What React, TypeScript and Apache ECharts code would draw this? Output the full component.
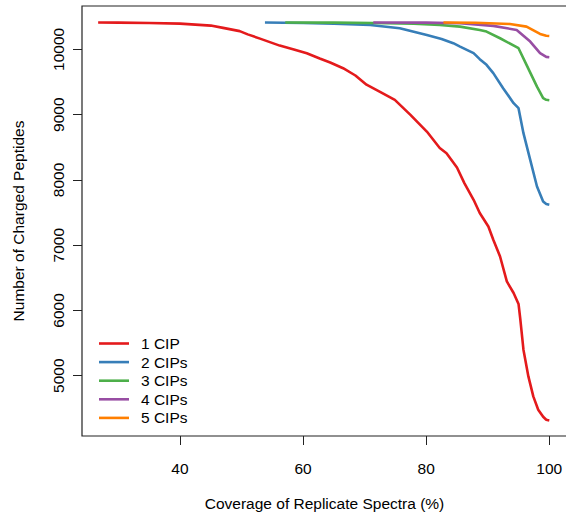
import React, { useEffect, useRef } from "react";
import * as echarts from "echarts";

const seriesNames = ["1 CIP", "2 CIPs", "3 CIPs", "4 CIPs", "5 CIPs"];
const seriesColors = ["#E41A1C", "#377EB8", "#4DAF4A", "#984EA3", "#FF7F00"];

const cip1: [number, number][] = [
  [26.7, 10412], [30, 10410], [35, 10405], [40, 10395], [45, 10365], [47, 10330],
  [49.7, 10280], [51, 10230], [53, 10165], [56.2, 10058], [58.5, 10000], [60.6, 9940],
  [62.7, 9860], [64.4, 9800], [66.5, 9712], [68.5, 9600], [70.3, 9460], [72.5, 9350],
  [74.9, 9227], [77.4, 9000], [80.1, 8741], [82.2, 8490], [83.3, 8410], [85.0, 8190],
  [86.2, 7951], [87.7, 7695], [88.7, 7492], [90.1, 7287], [90.9, 7083], [92.0, 6827],
  [93.1, 6444], [94.2, 6267], [95.0, 6100], [95.3, 5857], [95.8, 5398], [96.6, 4989],
  [97.4, 4683], [98.2, 4479], [99.0, 4370], [99.5, 4325], [100, 4315],
];
const cip2: [number, number][] = [
  [53.8, 10412], [60, 10405], [65, 10395], [70.9, 10375], [75.7, 10325], [80.1, 10222],
  [82.5, 10160], [84.4, 10095], [85.5, 10043], [87.7, 9942], [88.7, 9850], [89.8, 9763],
  [90.9, 9636], [92.5, 9406], [94.2, 9176], [95.0, 9100], [95.8, 8717], [96.9, 8308],
  [98.0, 7899], [99.0, 7669], [99.5, 7630], [100, 7620],
];
const cip3: [number, number][] = [
  [57.1, 10412], [65, 10410], [71.4, 10405], [78, 10392], [82.2, 10375], [85.5, 10349],
  [88.7, 10298], [89.8, 10273], [92.0, 10171], [95.0, 10018], [96.3, 9763], [98.0, 9430],
  [99.0, 9253], [99.5, 9228], [100, 9222],
];
const cip4: [number, number][] = [
  [71.4, 10412], [80, 10410], [85.5, 10401], [90.9, 10360], [94.7, 10298], [96.9, 10120],
  [98.5, 9942], [99.5, 9885], [100, 9880],
];
const cip5: [number, number][] = [
  [82.8, 10412], [88, 10408], [93.6, 10390], [96.3, 10349], [98.5, 10237], [99.5, 10208],
  [100, 10205],
];
const seriesData = [cip1, cip2, cip3, cip4, cip5];

const xTicks = [40, 60, 80, 100];
const yTicks = [5000, 6000, 7000, 8000, 9000, 10000];

const FONT = "'Liberation Sans', Arial, Helvetica, sans-serif";

export default function App() {
  const ref = useRef<HTMLDivElement>(null);
  useEffect(() => {
    if (!ref.current) return;
    const chart = echarts.init(ref.current, undefined, { renderer: "svg" });
    chart.setOption({
      animation: false,
      backgroundColor: "#ffffff",
      textStyle: { fontFamily: FONT, color: "#000" },
      grid: {
        left: 82,
        top: 6,
        right: -1,
        bottom: 83,
        show: true,
        borderColor: "#222",
        borderWidth: 1.2,
        outerBoundsMode: "none",
      },
      legend: {
        orient: "vertical",
        left: 94,
        top: 330.5,
        icon: "rect",
        itemWidth: 30,
        itemHeight: 2.6,
        itemGap: 2.6,
        data: seriesNames,
        formatter: (name: string) => `{t|${name}}`,
        textStyle: {
          fontFamily: FONT,
          fontSize: 15.5,
          color: "#000",
          rich: {
            t: { fontFamily: FONT, fontSize: 15.5, color: "#000", lineHeight: 18.6, padding: [0, 0, 0, 7] },
          },
        },
      },
      xAxis: {
        type: "value",
        min: 24.078,
        max: 102.876,
        name: "Coverage of Replicate Spectra (%)",
        nameLocation: "middle",
        nameGap: 59,
        nameTextStyle: { fontFamily: FONT, fontSize: 15.5, color: "#000" },
        axisLine: { show: false },
        axisTick: { show: true, inside: false, length: 9, customValues: xTicks, lineStyle: { color: "#222", width: 1 } },
        axisLabel: { customValues: xTicks, margin: 24, fontFamily: FONT, fontSize: 15.5, color: "#000" },
        splitLine: { show: false },
      },
      yAxis: {
        type: "value",
        min: 4076,
        max: 10665,
        name: "Number of Charged Peptides",
        nameLocation: "middle",
        nameGap: 56,
        nameTextStyle: { fontFamily: FONT, fontSize: 15.5, color: "#000" },
        axisLine: { show: false },
        axisTick: { show: true, inside: false, length: 9, customValues: yTicks, lineStyle: { color: "#222", width: 1 } },
        axisLabel: {
          customValues: yTicks,
          rotate: 90,
          margin: 16,
          fontFamily: FONT,
          fontSize: 15.5,
          color: "#000",
          formatter: (v: number) => String(v),
        },
        splitLine: { show: false },
      },
      series: seriesNames.map((name, i) => ({
        name,
        type: "line",
        data: seriesData[i],
        symbol: "none",
        showSymbol: false,
        lineStyle: { color: seriesColors[i], width: 2.6 },
        itemStyle: { color: seriesColors[i] },
        z: 2 + i,
      })),
    });
    return () => chart.dispose();
  }, []);
  return (
    <div
      ref={ref}
      style={{ position: "fixed", left: 0, top: 0, width: 566, height: 519 }}
    />
  );
}
